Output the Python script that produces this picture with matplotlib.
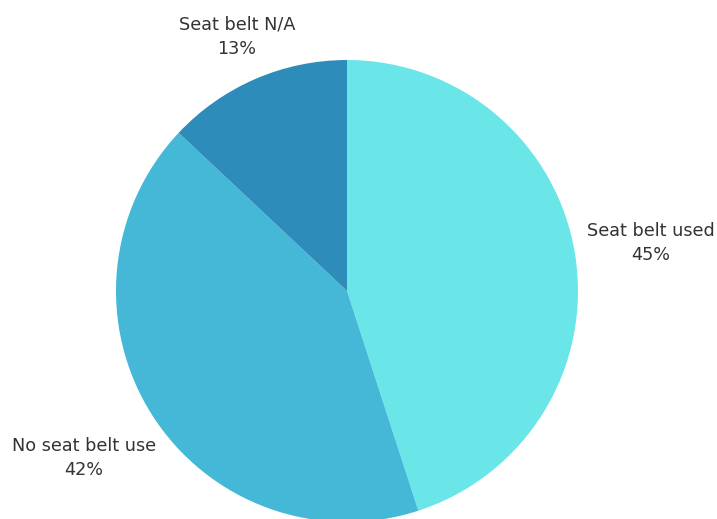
import matplotlib
matplotlib.use("Agg")
import matplotlib.pyplot as plt
import numpy as np

labels = ["Seat belt used", "No seat belt use", "Seat belt N/A"]
shares = [45, 42, 13]
colors = ["#6ae6e8", "#44b8d6", "#2e8cba"]
# how far each label sits from the centre, in radii
label_dist = [1.33, 1.35, 1.20]

W, H = 717, 519
cx, cy, r = 347, 519 - 291, 231

fig = plt.figure(figsize=(W / 100, H / 100), dpi=100)
ax = fig.add_axes([0, 0, 1, 1])

wedges, _ = ax.pie(shares, colors=colors, startangle=90, counterclock=False,
                   center=(cx, cy), radius=r, frame=True,
                   wedgeprops={"linewidth": 0})
ax.set_xlim(0, W)
ax.set_ylim(0, H)
ax.set_aspect("equal")
ax.axis("off")

for w, lab, val, d in zip(wedges, labels, shares, label_dist):
    mid = np.deg2rad((w.theta1 + w.theta2) / 2)
    x = cx + d * r * np.cos(mid)
    y = cy + d * r * np.sin(mid)
    ax.text(x, y, f"{lab}\n{val}%", ha="center", va="center",
            fontsize=12.7, color="#333333", linespacing=1.42,
            family="DejaVu Sans")

fig.savefig("out.png", dpi=100)
